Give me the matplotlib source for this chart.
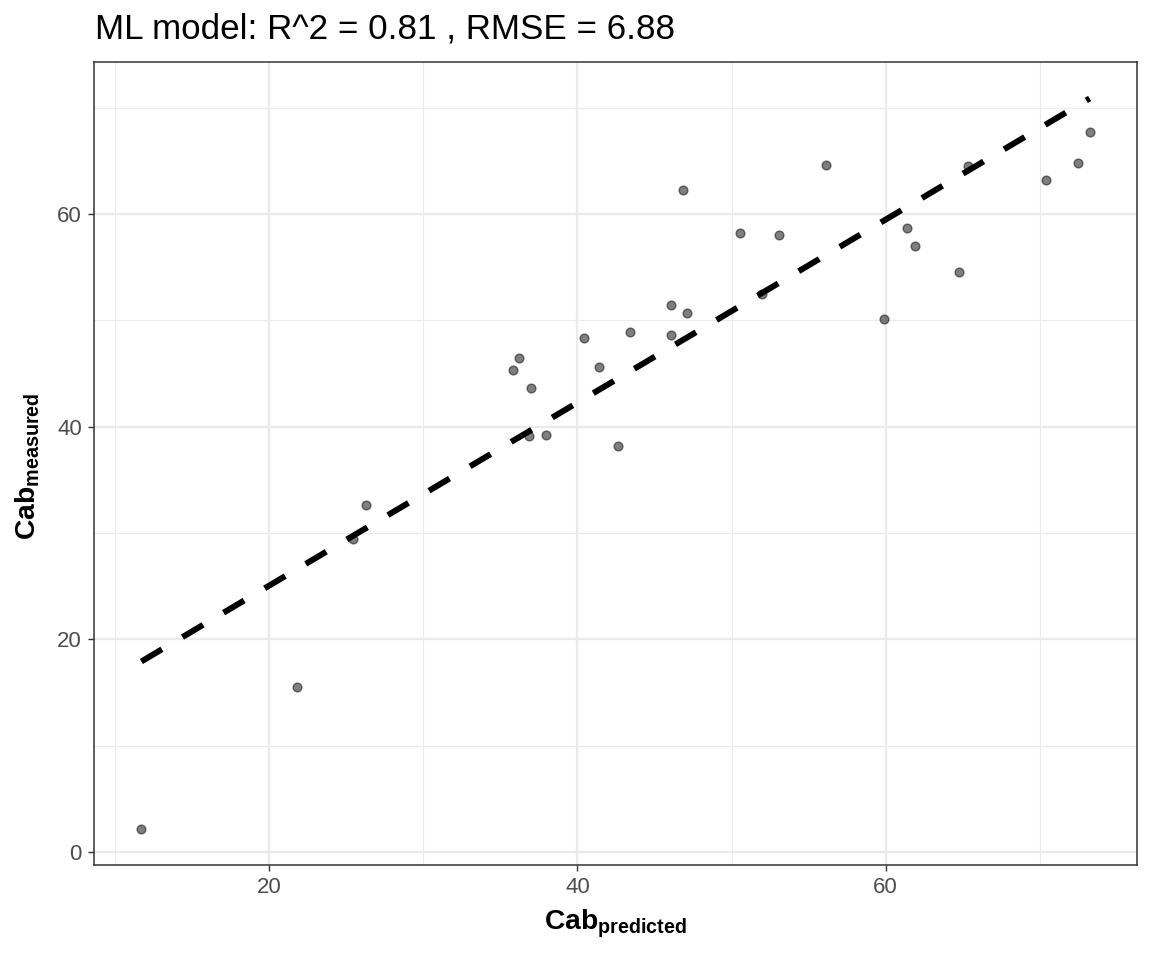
import numpy as np
import matplotlib
matplotlib.use("Agg")
import matplotlib.pyplot as plt
from matplotlib.ticker import MultipleLocator

plt.rcParams['font.family'] = ['Liberation Sans', 'DejaVu Sans']
plt.rcParams['mathtext.fontset'] = 'custom'
plt.rcParams['mathtext.rm'] = 'Liberation Sans'
plt.rcParams['mathtext.bf'] = 'Liberation Sans:bold'
plt.rcParams['mathtext.it'] = 'Liberation Sans:italic'

# ---- data ----
predicted = [11.71, 21.82, 25.43, 26.28, 35.85, 36.22, 36.98, 36.89, 37.95,
             40.45, 41.41, 42.66, 43.40, 46.10, 46.06, 46.87, 47.09, 50.57,
             52.00, 53.08, 56.13, 59.91, 61.40, 61.88, 64.77, 65.32, 70.38,
             72.49, 73.23]
measured = [2.23, 15.58, 29.45, 32.66, 45.38, 46.44, 43.69, 39.16, 39.19,
            48.34, 45.66, 38.16, 48.90, 51.41, 48.62, 62.25, 50.66, 58.25,
            52.44, 58.00, 64.59, 50.12, 58.65, 57.00, 54.59, 64.50, 63.24,
            64.84, 67.74]
title_text = "ML model: R^2 = 0.81 , RMSE = 6.88"
x_ticks = [20, 40, 60]
y_ticks = [0, 20, 40, 60]

x = np.array(predicted)
y = np.array(measured)
slope, intercept = np.polyfit(x, y, 1)
xl = np.array([x.min(), x.max()])
yl = intercept + slope * xl

W, H = 1152, 960
fig = plt.figure(figsize=(W / 100, H / 100), dpi=100)
L, R, T, B = 94, 1137, 62, 865
ax = fig.add_axes([L / W, 1 - B / H, (R - L) / W, (B - T) / H])

ax.scatter(x, y, s=40, facecolor=(0, 0, 0, 0.5), edgecolor=(0, 0, 0, 0.5),
           linewidths=1.0, zorder=3)
ax.plot(xl, yl, color='black', lw=4.3, dashes=(4, 4), zorder=4,
        solid_capstyle='butt', dash_capstyle='butt')

# limits with 5% expansion
xmin, xmax = x.min(), x.max()
ymin, ymax = min(y.min(), yl.min()), max(y.max(), yl.max())
dx, dy = (xmax - xmin) * 0.05, (ymax - ymin) * 0.05
ax.set_xlim(xmin - dx, xmax + dx)
ax.set_ylim(ymin - dy, ymax + dy)

ax.set_xticks(x_ticks)
ax.set_yticks(y_ticks)
ax.xaxis.set_minor_locator(MultipleLocator(10))
ax.yaxis.set_minor_locator(MultipleLocator(10))
ax.grid(which='major', color='#EBEBEB', lw=1.6, zorder=0)
ax.grid(which='minor', color='#EBEBEB', lw=0.8, zorder=0)
ax.set_axisbelow(True)
ax.tick_params(which='minor', length=0)
ax.tick_params(which='major', length=4.3, width=1.0, color='#333333',
               labelcolor='#4D4D4D', labelsize=16, pad=4.5)
for sp in ax.spines.values():
    sp.set_color('#333333')
    sp.set_linewidth(1.1)

fig.text(95 / W, 1 - 38.5 / H, title_text, fontsize=25.2, ha='left',
         va='baseline', color='black')
fig.text(615.5 / W, 1 - 929 / H, r'$\mathbf{Cab}_{\mathbf{predicted}}$',
         fontsize=20.3, ha='center', va='baseline')
fig.text(36 / W, 1 - 466 / H, r'$\mathbf{Cab}_{\mathbf{measured}}$',
         fontsize=20.3, ha='center', va='baseline', rotation=90,
         rotation_mode='anchor')

fig.savefig('out.png', dpi=100, facecolor='white')
